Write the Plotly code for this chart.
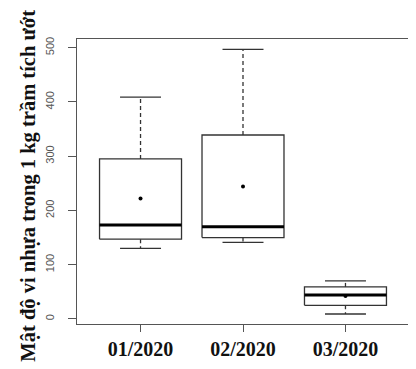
import plotly.graph_objects as go

months = ["01/2020", "02/2020", "03/2020"]
lower_whisker = [130, 141, 9]
q1 = [147, 150, 25]
median = [173, 170, 44]
q3 = [295, 339, 59]
upper_whisker = [409, 497, 70]
mean = [222, 244, 42]
y_ticks = [0, 100, 200, 300, 400, 500]

positions = list(range(1, len(months) + 1))
HW = 0.4   # half box width
CW = 0.2   # half cap width

box_x, box_y = [], []
med_x, med_y = [], []
wh_x, wh_y = [], []
cap_x, cap_y = [], []
for p, lw, a, m, b, uw in zip(positions, lower_whisker, q1, median, q3, upper_whisker):
    box_x += [p - HW, p + HW, p + HW, p - HW, p - HW, None]
    box_y += [a, a, b, b, a, None]
    med_x += [p - HW, p + HW, None]
    med_y += [m, m, None]
    wh_x += [p, p, None, p, p, None]
    wh_y += [b, uw, None, a, lw, None]
    cap_x += [p - CW, p + CW, None, p - CW, p + CW, None]
    cap_y += [uw, uw, None, lw, lw, None]

fig = go.Figure()
fig.add_trace(go.Scatter(x=wh_x, y=wh_y, mode="lines",
                         line=dict(color="#333333", width=1.3, dash="4px,3px"),
                         hoverinfo="skip", showlegend=False))
fig.add_trace(go.Scatter(x=cap_x, y=cap_y, mode="lines",
                         line=dict(color="#333333", width=1.3),
                         hoverinfo="skip", showlegend=False))
fig.add_trace(go.Scatter(x=box_x, y=box_y, mode="lines",
                         line=dict(color="#333333", width=1.3),
                         hoverinfo="skip", showlegend=False))
fig.add_trace(go.Scatter(x=med_x, y=med_y, mode="lines",
                         line=dict(color="#000000", width=3),
                         hoverinfo="skip", showlegend=False))
fig.add_trace(go.Scatter(x=positions, y=mean, mode="markers",
                         marker=dict(color="#000000", size=4),
                         showlegend=False))

fig.update_layout(
    width=408, height=361,
    margin=dict(l=69, r=7, t=31, b=45),
    paper_bgcolor="white", plot_bgcolor="white",
    xaxis=dict(range=[0.38, 3.62], tickvals=positions, ticktext=months,
               showgrid=False, zeroline=False, showline=True, mirror=True,
               linecolor="#555555", linewidth=1.3,
               ticks="outside", ticklen=7, tickcolor="#555555",
               tickfont=dict(family="Liberation Serif", size=20, color="#111111",
                             weight="bold"),
               automargin=False),
    yaxis=dict(range=[-9.4, 516], tickvals=y_ticks,
               showgrid=False, zeroline=False, showline=True, mirror=True,
               linecolor="#555555", linewidth=1.3,
               ticks="outside", ticklen=8, tickcolor="#555555",
               tickangle=-90, ticklabelstandoff=9,
               tickfont=dict(family="Liberation Sans", size=11, color="#555555"),
               automargin=False),
    annotations=[dict(text="Mật độ vi nhựa trong 1 kg trầm tích ướt",
                      xref="paper", yref="paper", x=-0.145, y=0.485,
                      xanchor="center", yanchor="middle", textangle=-90,
                      showarrow=False,
                      font=dict(family="Liberation Serif", size=20.5, color="#111111",
                                weight="bold"))],
)

fig.write_html("out.html")
